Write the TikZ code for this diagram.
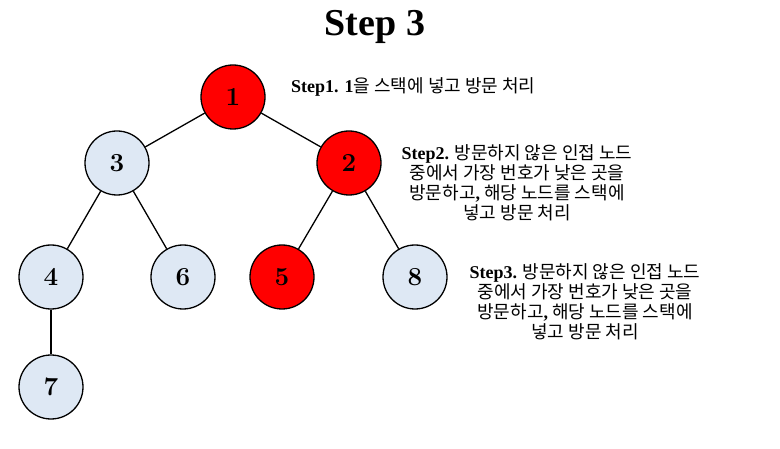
\documentclass[tikz,border=0pt]{standalone}
\usepackage{fontspec}
\setmainfont{Liberation Serif}
\newfontfamily\kr{Noto Sans CJK KR}
\newfontfamily\lmnum{Latin Modern Roman}
\definecolor{nodeblue}{HTML}{DEE8F4}
\definecolor{nodered}{HTML}{FF0000}
\begin{document}
\begin{tikzpicture}[x=1pt,y=-1pt,
  vtx/.style={circle,draw=black,line width=1.3pt,minimum size=64pt,inner sep=0pt,font=\fontsize{26}{28}\selectfont\lmnum\bfseries},
  blue/.style={vtx,fill=nodeblue},
  red/.style={vtx,fill=nodered},
  edge/.style={line width=1.3pt},
  desc/.style={align=center,font=\fontsize{18}{20}\selectfont\kr,inner sep=0pt}]
\useasboundingbox (0,0) rectangle (780,449);
\node[font=\fontsize{38}{42}\selectfont\bfseries] (title) at (375,27) {Step 3};
\node[red] (n1) at (233,97) {1};
\node[blue] (n3) at (117,163) {3};
\node[red] (n2) at (349,163) {2};
\node[blue] (n4) at (51,277) {4};
\node[blue] (n6) at (183,277) {6};
\node[red] (n5) at (282,277) {5};
\node[blue] (n8) at (415,277) {8};
\node[blue] (n7) at (51,387) {7};
\draw[edge] (n1) -- (n3);
\draw[edge] (n1) -- (n2);
\draw[edge] (n3) -- (n4);
\draw[edge] (n3) -- (n6);
\draw[edge] (n2) -- (n5);
\draw[edge] (n2) -- (n8);
\draw[edge] (n4) -- (n7);
\node[desc,anchor=west] (s1) at (291,87) {{\rmfamily\bfseries Step1. 1}을 스택에 넣고 방문 처리};
\node[desc] (s2) at (517,183) {{\rmfamily\bfseries Step2.} 방문하지 않은 인접 노드\\중에서 가장 번호가 낮은 곳을\\방문하고{\rmfamily\bfseries,} 해당 노드를 스택에\\넣고 방문 처리};
\node[desc] (s3) at (585,302) {{\rmfamily\bfseries Step3.} 방문하지 않은 인접 노드\\중에서 가장 번호가 낮은 곳을\\방문하고{\rmfamily\bfseries,} 해당 노드를 스택에\\넣고 방문 처리};
\end{tikzpicture}
\end{document}
